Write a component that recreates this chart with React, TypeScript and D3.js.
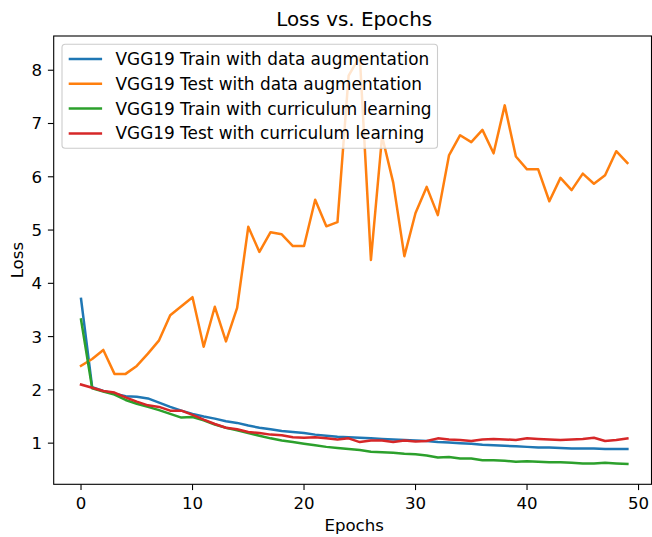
import React from "react";
import * as d3 from "d3";

// Per-epoch loss values for each run
const epochs = d3.range(50);
const vggTrainAug = [3.71, 2.05, 1.98, 1.93, 1.88, 1.87, 1.84, 1.76, 1.68, 1.61, 1.55, 1.5, 1.46, 1.41, 1.38, 1.33, 1.29, 1.26, 1.23, 1.21, 1.19, 1.16, 1.14, 1.12, 1.11, 1.1, 1.09, 1.08, 1.07, 1.06, 1.05, 1.04, 1.02, 1.01, 1.0, 0.99, 0.97, 0.96, 0.95, 0.94, 0.93, 0.92, 0.92, 0.91, 0.9, 0.9, 0.9, 0.89, 0.89, 0.89];
const vggTestAug = [2.45, 2.58, 2.75, 2.3, 2.3, 2.45, 2.68, 2.93, 3.4, 3.57, 3.74, 2.81, 3.56, 2.91, 3.54, 5.06, 4.59, 4.96, 4.92, 4.7, 4.7, 5.57, 5.07, 5.15, 7.9, 8.26, 4.44, 6.76, 5.89, 4.51, 5.32, 5.81, 5.28, 6.4, 6.78, 6.65, 6.88, 6.44, 7.34, 6.38, 6.14, 6.14, 5.54, 5.98, 5.75, 6.06, 5.87, 6.03, 6.48, 6.26];
const vggTrainCurr = [3.32, 2.03, 1.97, 1.91, 1.81, 1.74, 1.68, 1.62, 1.55, 1.48, 1.49, 1.43, 1.35, 1.29, 1.24, 1.19, 1.14, 1.09, 1.05, 1.02, 0.99, 0.96, 0.93, 0.91, 0.89, 0.87, 0.84, 0.83, 0.82, 0.8, 0.79, 0.77, 0.73, 0.74, 0.71, 0.71, 0.68, 0.68, 0.67, 0.65, 0.66, 0.65, 0.64, 0.64, 0.63, 0.62, 0.62, 0.63, 0.62, 0.61];
const vggTestCurr = [2.1, 2.04, 1.98, 1.95, 1.86, 1.78, 1.71, 1.68, 1.61, 1.61, 1.53, 1.44, 1.36, 1.29, 1.26, 1.21, 1.19, 1.16, 1.15, 1.11, 1.1, 1.11, 1.09, 1.07, 1.09, 1.02, 1.05, 1.05, 1.02, 1.05, 1.03, 1.04, 1.09, 1.07, 1.06, 1.04, 1.07, 1.08, 1.07, 1.06, 1.09, 1.08, 1.07, 1.06, 1.07, 1.08, 1.1, 1.04, 1.06, 1.09];

const seriesLabels = [
  "VGG19 Train with data augmentation",
  "VGG19 Test with data augmentation",
  "VGG19 Train with curriculum learning",
  "VGG19 Test with curriculum learning",
];
const seriesColors = ["#1f77b4", "#ff7f0e", "#2ca02c", "#d62728"];
const xTicks = [0, 10, 20, 30, 40, 50];
const yTicks = [1, 2, 3, 4, 5, 6, 7, 8];

const W = 652;
const H = 537;
const FONT = "DejaVu Sans, sans-serif";
const FS = 16.6;
const LEGEND_FS = 16.9;

export default function App() {
  const series = [vggTrainAug, vggTestAug, vggTrainCurr, vggTestCurr];

  // matplotlib-style 5% margins on both axes
  const xPad = (epochs[epochs.length - 1] - epochs[0]) * 0.05;
  const allY = series.flat();
  const yMin = d3.min(allY) as number;
  const yMax = d3.max(allY) as number;
  const yPad = (yMax - yMin) * 0.05;

  const plotLeft = 53.7;
  const plotRight = 654.7;
  const plotTop = 36;
  const plotBottom = 484.3;
  const frameRight = Math.min(plotRight, W - 0.5);

  const x = d3
    .scaleLinear()
    .domain([epochs[0] - xPad, epochs[epochs.length - 1] + xPad])
    .range([plotLeft, plotRight]);
  const y = d3
    .scaleLinear()
    .domain([yMin - yPad, yMax + yPad])
    .range([plotBottom, plotTop]);

  const line = d3
    .line<number>()
    .x((_, i) => x(epochs[i]))
    .y((d) => y(d));

  const tickLen = 5.8;
  const tickPad = 5.8;

  // legend geometry
  const lgLeft = plotLeft + 8.3;
  const lgTop = plotTop + 8.3;
  const lgW = 375.5;
  const lgRow = 24.8;
  const lgH = 104;
  const lgFirst = lgTop + 14.7;

  return (
    <svg
      width={W}
      height={H}
      style={{ position: "fixed", left: 0, top: 0, background: "#fff" }}
      fontFamily={FONT}
    >
      <rect x={0} y={0} width={W} height={H} fill="#fff" />
      <text
        x={(plotLeft + plotRight) / 2}
        y={plotTop - 10}
        textAnchor="middle"
        fontSize={19.9}
        fill="#000"
      >
        Loss vs. Epochs
      </text>

      <defs>
        <clipPath id="plot-clip">
          <rect x={plotLeft} y={plotTop} width={plotRight - plotLeft} height={plotBottom - plotTop} />
        </clipPath>
      </defs>

      <g clipPath="url(#plot-clip)">
        {series.map((s, i) => (
          <path
            key={i}
            d={line(s) || ""}
            fill="none"
            stroke={seriesColors[i]}
            strokeWidth={2.5}
            strokeLinejoin="round"
            strokeLinecap="square"
          />
        ))}
      </g>

      {/* axes frame */}
      <rect
        x={plotLeft}
        y={plotTop}
        width={frameRight - plotLeft}
        height={plotBottom - plotTop}
        fill="none"
        stroke="#000"
        strokeWidth={1.1}
      />

      {/* x axis */}
      {xTicks.map((t) => (
        <g key={t}>
          <line x1={x(t)} x2={x(t)} y1={plotBottom} y2={plotBottom + tickLen} stroke="#000" strokeWidth={1.1} />
          <text
            x={x(t)}
            y={plotBottom + tickLen + tickPad}
            dy="0.76em"
            textAnchor="middle"
            fontSize={FS}
            fill="#000"
          >
            {t}
          </text>
        </g>
      ))}
      <text x={(plotLeft + plotRight) / 2} y={531} textAnchor="middle" fontSize={FS} fill="#000">
        Epochs
      </text>

      {/* y axis */}
      {yTicks.map((t) => (
        <g key={t}>
          <line x1={plotLeft - tickLen} x2={plotLeft} y1={y(t)} y2={y(t)} stroke="#000" strokeWidth={1.1} />
          <text
            x={plotLeft - tickLen - tickPad}
            y={y(t)}
            dy="0.36em"
            textAnchor="end"
            fontSize={FS}
            fill="#000"
          >
            {t}
          </text>
        </g>
      ))}
      <text
        transform={`translate(23,${(plotTop + plotBottom) / 2}) rotate(-90)`}
        textAnchor="middle"
        fontSize={FS}
        fill="#000"
      >
        Loss
      </text>

      {/* legend */}
      <rect
        x={lgLeft}
        y={lgTop}
        width={lgW}
        height={lgH}
        rx={3.3}
        fill="#fff"
        fillOpacity={0.8}
        stroke="#cccccc"
        strokeWidth={1.1}
      />
      {seriesLabels.map((label, i) => {
        const cy = lgFirst + i * lgRow;
        return (
          <g key={label}>
            <line
              x1={lgLeft + 6.7}
              x2={lgLeft + 6.7 + 33.4}
              y1={cy}
              y2={cy}
              stroke={seriesColors[i]}
              strokeWidth={2.5}
            />
            <text x={lgLeft + 6.7 + 33.4 + 13.4} y={cy} dy="0.36em" fontSize={LEGEND_FS} fill="#000">
              {label}
            </text>
          </g>
        );
      })}
    </svg>
  );
}
